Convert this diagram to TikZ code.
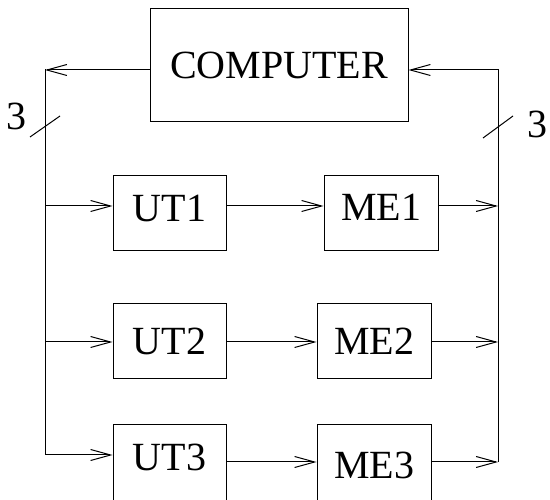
\documentclass[tikz,border=0pt]{standalone}
\usepackage{fontspec}
\setmainfont{Liberation Serif}
\usetikzlibrary{arrows.meta}

\begin{document}
\begin{tikzpicture}[
  x=1pt,y=-1pt,
  font=\fontsize{40}{41}\selectfont,
  blk/.style={draw,line width=1pt,inner sep=0pt,minimum width=113pt,minimum height=75pt},
  arr/.style={-{Straight Barb[length=20pt,width=11pt]},line width=1pt},
  bus/.style={line width=1pt,line cap=rect},
]
\useasboundingbox (0,0) rectangle (550,500);

\node[blk,minimum width=258pt,minimum height=113pt] (comp) at (279,65.5) {COMPUTER};

\node[blk,text depth=10pt] (ut1) at (169.5,213.5) {UT1};
\node[blk] (ut2) at (169.5,341.5) {UT2};
\node[blk,minimum height=80pt,text depth=15pt] (ut3) at (169.5,465) {UT3};

\node[blk,minimum width=114pt,text depth=12pt] (me1) at (381,213.5) {ME1};
\node[blk,minimum width=114pt] (me2) at (374,341.5) {ME2};
\node[blk,minimum width=114pt,minimum height=80pt] (me3) at (374,465) {ME3};

% bus corners and taps
\coordinate (ltop) at (45,70);
\coordinate (l1) at (45,206);
\coordinate (l2) at (45,342);
\coordinate (l3) at (45,455);
\coordinate (rtop) at (498,70);
\coordinate (r1) at (498,206);
\coordinate (r2) at (498,342);
\coordinate (r3) at (498,462);

\draw[arr] (comp.west |- ltop) -- (ltop);
\draw[bus] (ltop) -- (l3);
\draw[bus] (r3) -- (rtop);
\draw[arr] (rtop) -- (rtop -| comp.east);

\draw[arr] (l1) -- (l1 -| ut1.west);
\draw[arr] (l2) -- (l2 -| ut2.west);
\draw[arr] (l3) -- (l3 -| ut3.west);

\draw[arr] (ut1.east |- l1) -- (me1.west |- l1);
\draw[arr] (ut2.east |- l2) -- (me2.west |- l2);
\draw[arr] (ut3.east |- r3) -- (me3.west |- r3);

\draw[arr] (me1.east |- r1) -- (r1);
\draw[arr] (me2.east |- r2) -- (r2);
\draw[arr] (me3.east |- r3) -- (r3);

% bus width marks
\draw[line width=1pt] (30,137) -- (60,116);
\draw[line width=1pt] (483,138) -- (513,116);
\node[inner sep=0pt] (wl) at (16.5,116) {3};
\node[inner sep=0pt] (wr) at (537,124) {3};

\end{tikzpicture}
\end{document}
